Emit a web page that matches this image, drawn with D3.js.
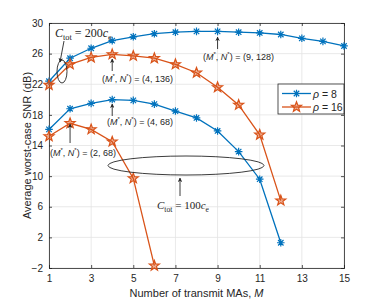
<!DOCTYPE html>
<html>
<head>
<meta charset="utf-8">
<script src="https://cdn.jsdelivr.net/npm/d3@7"></script>
<style>
  body { margin: 0; background: #fff; }
  text { font-family: "Liberation Sans", Arial, sans-serif; fill: #262626; }
  .math { font-family: "Liberation Serif", "DejaVu Serif", serif; }
</style>
</head>
<body>
<div id="chart"></div>
<script>
// Data
var xTicks = [1, 3, 5, 7, 9, 11, 13, 15];
var yTicks = [-2, 2, 6, 10, 14, 18, 22, 26, 30];

var mRho8Big = [1, 2, 3, 4, 5, 6, 7, 8, 9, 10, 11, 12, 13, 14, 15];
var snrRho8Big = [22.4, 25.4, 26.7, 27.7, 28.2, 28.6, 28.8, 28.9, 28.9, 28.8, 28.7, 28.5, 28.0, 27.6, 27.0];
var mRho16Big = [1, 2, 3, 4, 5, 6, 7, 8, 9, 10, 11, 12];
var snrRho16Big = [21.9, 24.6, 25.5, 25.9, 25.7, 25.4, 24.6, 23.5, 21.6, 19.3, 15.4, 6.8];
var mRho8Small = [1, 2, 3, 4, 5, 6, 7, 8, 9, 10, 11, 12];
var snrRho8Small = [16.1, 18.8, 19.5, 20.0, 19.9, 19.4, 18.5, 17.6, 15.9, 13.2, 9.6, 1.3];
var mRho16Small = [1, 2, 3, 4, 5, 6];
var snrRho16Small = [15.2, 16.9, 16.1, 14.5, 9.7, -1.7];

var blue = '#0072BD', orange = '#D95319';

// chart space
var margin = {top: 23, right: 37, bottom: 34, left: 49},
    width = 381 - margin.left - margin.right,
    height = 302 - margin.top - margin.bottom;

var chart = d3.select('#chart').append('svg')
    .attr('width', 381)
    .attr('height', 302);
chart.append('rect').attr('width', 381).attr('height', 302).attr('fill', '#fff');
var g = chart.append('g')
    .attr('transform', 'translate(' + margin.left + ',' + margin.top + ')');

var xScale = d3.scaleLinear().domain([1, 15]).range([0, width]);
var yScale = d3.scaleLinear().domain([-2, 30]).range([height, 0]);

// grid
g.append('g').selectAll('line').data(xTicks).enter().append('line')
    .attr('x1', function(d) { return xScale(d); }).attr('x2', function(d) { return xScale(d); })
    .attr('y1', 0).attr('y2', height)
    .attr('stroke', '#e3e3e3').attr('stroke-width', 0.8);
g.append('g').selectAll('line').data(yTicks).enter().append('line')
    .attr('y1', function(d) { return yScale(d); }).attr('y2', function(d) { return yScale(d); })
    .attr('x1', 0).attr('x2', width)
    .attr('stroke', '#e3e3e3').attr('stroke-width', 0.8);

// axes (MATLAB box style, inward ticks)
var xAxis = g.append('g').attr('transform', 'translate(0,' + height + ')')
    .call(d3.axisBottom(xScale).tickValues(xTicks).tickSize(-3).tickPadding(7));
var yAxis = g.append('g')
    .call(d3.axisLeft(yScale).tickValues(yTicks).tickSize(-3).tickPadding(6));
var xTop = g.append('g').call(d3.axisTop(xScale).tickValues(xTicks).tickSize(-3).tickFormat(''));
var yRight = g.append('g').attr('transform', 'translate(' + width + ',0)')
    .call(d3.axisRight(yScale).tickValues(yTicks).tickSize(-3).tickFormat(''));
[xAxis, yAxis, xTop, yRight].forEach(function(a) {
    a.selectAll('path').attr('stroke', '#262626').attr('stroke-width', 0.8);
    a.selectAll('line').attr('stroke', '#262626').attr('stroke-width', 0.8);
    a.selectAll('text').attr('font-size', '10px').attr('fill', '#262626')
        .style('font-family', '"Liberation Sans", Arial, sans-serif');
});

// axis labels
var xl = chart.append('text')
    .attr('x', margin.left + width / 2).attr('y', 297)
    .attr('text-anchor', 'middle').attr('font-size', '11px');
xl.append('tspan').text('Number of transmit MAs, ');
xl.append('tspan').attr('font-style', 'italic').text('M');

chart.append('text')
    .attr('text-anchor', 'middle').attr('font-size', '11px')
    .attr('transform', 'translate(31,' + (margin.top + height / 2) + ')rotate(-90)')
    .text('Average worst-case SNR (dB)');

// markers
function asteriskPath(r) {
    var d = 'M' + (-r) + ',0L' + r + ',0M0,' + (-r) + 'L0,' + r;
    var k = r * 0.72;
    d += 'M' + (-k) + ',' + (-k) + 'L' + k + ',' + k + 'M' + (-k) + ',' + k + 'L' + k + ',' + (-k);
    return d;
}
function starPath(R, rIn) {
    var pts = [];
    for (var i = 0; i < 10; i++) {
        var rr = i % 2 === 0 ? R : rIn;
        var a = -Math.PI / 2 + i * Math.PI / 5;
        pts.push([rr * Math.cos(a), rr * Math.sin(a)]);
    }
    return 'M' + pts.map(function(p) { return p[0].toFixed(2) + ',' + p[1].toFixed(2); }).join('L') + 'Z';
}
var astD = asteriskPath(3.8), starD = starPath(5.3, 2.2);

var line = d3.line()
    .x(function(d) { return xScale(d[0]); })
    .y(function(d) { return yScale(d[1]); });

var series = [
    {m: mRho8Big, v: snrRho8Big, color: blue, mark: 'ast'},
    {m: mRho16Big, v: snrRho16Big, color: orange, mark: 'star'},
    {m: mRho8Small, v: snrRho8Small, color: blue, mark: 'ast'},
    {m: mRho16Small, v: snrRho16Small, color: orange, mark: 'star'}
];

series.forEach(function(s) {
    var pts = s.m.map(function(m, i) { return [m, s.v[i]]; });
    g.append('path').datum(pts)
        .attr('d', line).attr('fill', 'none')
        .attr('stroke', s.color).attr('stroke-width', 1.3);
    g.selectAll(null).data(pts).enter().append('path')
        .attr('transform', function(d) { return 'translate(' + xScale(d[0]) + ',' + yScale(d[1]) + ')'; })
        .attr('d', s.mark === 'ast' ? astD : starD)
        .attr('fill', s.mark === 'ast' ? 'none' : orange)
        .attr('fill-opacity', 0.45)
        .attr('stroke', s.color).attr('stroke-width', 1.2);
});

// annotations
chart.append('defs').append('marker')
    .attr('id', 'arr').attr('viewBox', '0 0 10 10').attr('refX', 9).attr('refY', 5)
    .attr('markerWidth', 5).attr('markerHeight', 5).attr('orient', 'auto')
    .append('path').attr('d', 'M0,0L10,5L0,10L3,5Z').attr('fill', '#262626');

function arrow(x1, y1, x2, y2) {
    chart.append('line')
        .attr('x1', x1).attr('y1', y1).attr('x2', x2).attr('y2', y2)
        .attr('stroke', '#262626').attr('stroke-width', 0.9)
        .attr('marker-end', 'url(#arr)');
}
function optLabel(x, y, txt) {
    var t = chart.append('text').attr('x', x).attr('y', y).attr('font-size', '9px');
    t.append('tspan').text('(');
    t.append('tspan').attr('font-style', 'italic').text('M');
    t.append('tspan').attr('font-size', '6px').attr('dy', -4).text('*');
    t.append('tspan').attr('dy', 4).text(', ');
    t.append('tspan').attr('font-style', 'italic').text('N');
    t.append('tspan').attr('font-size', '6px').attr('dy', -4).text('*');
    t.append('tspan').attr('dy', 4).text(') = ' + txt);
}
function ctotLabel(x, y, val, size) {
    var t = chart.append('text').attr('class', 'math').attr('x', x).attr('y', y).attr('font-size', size + 'px');
    t.append('tspan').attr('font-style', 'italic').text('C');
    t.append('tspan').attr('font-size', (size * 0.7) + 'px').attr('dy', 2.5).text('tot');
    t.append('tspan').attr('dy', -2.5).text(' = ' + val);
    t.append('tspan').attr('font-style', 'italic').text('c');
    t.append('tspan').attr('font-size', (size * 0.7) + 'px').attr('dy', 2.5).text('e');
}

// C_tot = 200 c_e
ctotLabel(55, 37, '200', 12);
arrow(64, 41, 60, 62);
chart.append('ellipse').attr('cx', 62).attr('cy', 71.5).attr('rx', 5).attr('ry', 11.5)
    .attr('fill', 'none').attr('stroke', '#262626').attr('stroke-width', 0.9);

// C_tot = 100 c_e
chart.append('ellipse').attr('cx', 186).attr('cy', 165.5).attr('rx', 78).attr('ry', 9.5)
    .attr('fill', 'none').attr('stroke', '#262626').attr('stroke-width', 0.9);
arrow(180, 196, 180, 178);
ctotLabel(157, 209, '100', 11);

// optimum points
arrow(xScale(4) + margin.left, 71, xScale(4) + margin.left, 59);
optLabel(102, 82, '(4, 136)');
arrow(xScale(9) + margin.left, 49, xScale(9) + margin.left, 37);
optLabel(203, 60, '(9, 128)');
arrow(xScale(4) + margin.left, 116, xScale(4) + margin.left, 104);
optLabel(107, 125, '(4, 68)');
arrow(xScale(2) + margin.left, 143, xScale(2) + margin.left, 124);
optLabel(50, 156, '(2, 68)');

// legend
var legend = chart.append('g');
legend.append('rect')
    .attr('x', 278).attr('y', 84).attr('width', 66).attr('height', 30)
    .attr('fill', '#fff').attr('stroke', '#262626').attr('stroke-width', 0.8);
var legItems = [
    {label: '8', color: blue, mark: 'ast'},
    {label: '16', color: orange, mark: 'star'}
];
legItems.forEach(function(d, i) {
    var y = 93.5 + i * 13.5;
    legend.append('line').attr('x1', 282).attr('x2', 311).attr('y1', y).attr('y2', y)
        .attr('stroke', d.color).attr('stroke-width', 1.3);
    legend.append('path')
        .attr('transform', 'translate(296.5,' + y + ')')
        .attr('d', d.mark === 'ast' ? astD : starD)
        .attr('fill', d.mark === 'ast' ? 'none' : orange).attr('fill-opacity', 0.45)
        .attr('stroke', d.color).attr('stroke-width', 1.2);
    var t = legend.append('text').attr('x', 313).attr('y', y + 4).attr('font-size', '10.5px');
    t.append('tspan').attr('font-style', 'italic').text('\u03c1');
    t.append('tspan').text(' = ' + d.label);
});
</script>
</body>
</html>
